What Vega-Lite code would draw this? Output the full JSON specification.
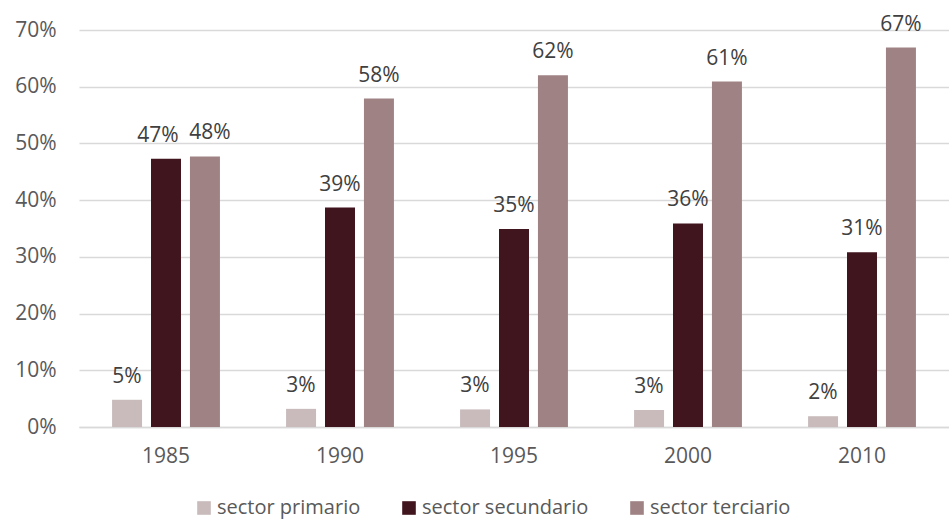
{
  "$schema": "https://vega.github.io/schema/vega-lite/v6.json",
  "autosize": {"type": "none"},
  "padding": {"left": 79, "top": 30, "right": 0, "bottom": 95},
  "width": 870,
  "height": 397,
  "background": "white",
  "config": {
    "view": {"stroke": null},
    "font": "Open Sans",
    "axis": {"labelFont": "Open Sans", "labelColor": "#595959", "labelFontSize": 21},
    "legend": {"labelFont": "Open Sans", "labelColor": "#595959", "labelFontSize": 20}
  },
  "data": {
    "values": [
      {"year": "1985", "sector": "sector primario", "value": 0.048},
      {"year": "1985", "sector": "sector secundario", "value": 0.473},
      {"year": "1985", "sector": "sector terciario", "value": 0.477},
      {"year": "1990", "sector": "sector primario", "value": 0.032},
      {"year": "1990", "sector": "sector secundario", "value": 0.387},
      {"year": "1990", "sector": "sector terciario", "value": 0.579},
      {"year": "1995", "sector": "sector primario", "value": 0.031},
      {"year": "1995", "sector": "sector secundario", "value": 0.349},
      {"year": "1995", "sector": "sector terciario", "value": 0.62},
      {"year": "2000", "sector": "sector primario", "value": 0.03},
      {"year": "2000", "sector": "sector secundario", "value": 0.359},
      {"year": "2000", "sector": "sector terciario", "value": 0.609},
      {"year": "2010", "sector": "sector primario", "value": 0.019},
      {"year": "2010", "sector": "sector secundario", "value": 0.308},
      {"year": "2010", "sector": "sector terciario", "value": 0.669}
    ]
  },
  "encoding": {
    "x": {
      "field": "year", "type": "nominal",
      "scale": {"paddingInner": 0.38, "paddingOuter": 0.19},
      "axis": {"title": null, "labelAngle": 0, "ticks": false, "domainColor": "#d9d9d9", "domainWidth": 1.5, "labelPadding": 18}
    },
    "xOffset": {
      "field": "sector", "type": "nominal",
      "scale": {"paddingInner": 0.23, "paddingOuter": 0}
    },
    "y": {
      "field": "value", "type": "quantitative",
      "scale": {"domain": [0, 0.7], "nice": false},
      "axis": {"title": null, "format": ".0%", "values": [0, 0.1, 0.2, 0.3, 0.4, 0.5, 0.6, 0.7], "labelOverlap": false, "ticks": false, "domain": false, "gridColor": "#d9d9d9", "gridWidth": 1.5, "labelPadding": 23}
    }
  },
  "layer": [
    {
      "mark": {"type": "bar"},
      "encoding": {
        "color": {
          "field": "sector", "type": "nominal",
          "scale": {"domain": ["sector primario", "sector secundario", "sector terciario"], "range": ["#c9bbbb", "#40151e", "#9f8284"]},
          "legend": {"title": null, "orient": "none", "direction": "horizontal", "legendX": 115, "legendY": 468, "symbolType": "square", "symbolSize": 185, "symbolStrokeWidth": 0, "columnPadding": 38, "labelOffset": 3, "labelLimit": 400}
        }
      }
    },
    {
      "transform": [{"filter": "!(datum.year === '1985' && datum.sector !== 'sector primario')"}],
      "mark": {"type": "text", "baseline": "alphabetic", "dy": -17, "fontSize": 21, "color": "#404040"},
      "encoding": {
        "text": {"field": "value", "type": "quantitative", "format": ".0%"}
      }
    },
    {
      "transform": [{"filter": "datum.year === '1985' && datum.sector === 'sector secundario'"}],
      "mark": {"type": "text", "baseline": "alphabetic", "dy": -17, "dx": -8, "fontSize": 21, "color": "#404040"},
      "encoding": {
        "text": {"field": "value", "type": "quantitative", "format": ".0%"}
      }
    },
    {
      "transform": [{"filter": "datum.year === '1985' && datum.sector === 'sector terciario'"}],
      "mark": {"type": "text", "baseline": "alphabetic", "dy": -17, "dx": 5, "fontSize": 21, "color": "#404040"},
      "encoding": {
        "text": {"field": "value", "type": "quantitative", "format": ".0%"}
      }
    }
  ]
}
